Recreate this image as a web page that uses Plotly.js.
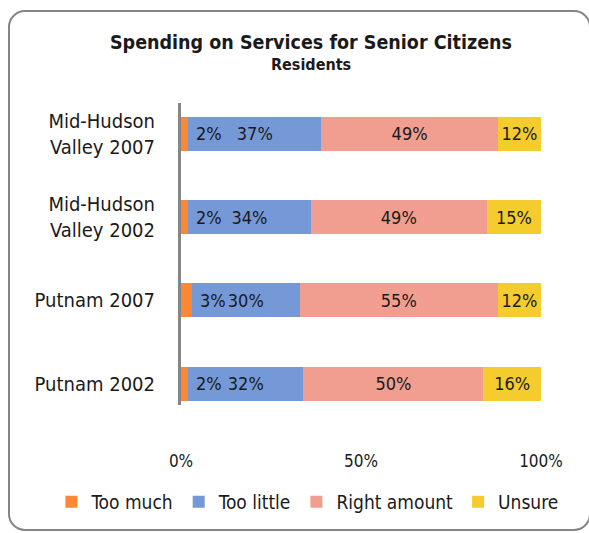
<!DOCTYPE html>
<html>
<head>
<meta charset="utf-8">
<script src="https://cdn.plot.ly/plotly-3.0.1.min.js"></script>
<style>
  html, body { margin: 0; padding: 0; background: #fff; overflow: hidden; }
  #wrap { position: relative; width: 589px; height: 533px; }
  #chart { position: absolute; left: 0; top: 0; width: 589px; height: 533px; }
  #frame { position: absolute; left: 8px; top: 10px; width: 583px; height: 521px;
           box-sizing: border-box; border: 2px solid #858585; border-radius: 17px;
           pointer-events: none; }
</style>
</head>
<body>
<div id="wrap">
  <div id="chart"></div>
  <div id="frame"></div>
</div>
<script>
// ---- data ----
const categories = ['Mid-Hudson<br>Valley 2007', 'Mid-Hudson<br>Valley 2002', 'Putnam 2007', 'Putnam 2002'];
const tooMuch    = [2, 2, 3, 2];
const tooLittle  = [37, 34, 30, 32];
const rightAmt   = [49, 49, 55, 50];
const unsure     = [12, 15, 12, 16];
const seriesNames = ['Too much', 'Too little', 'Right amount', 'Unsure'];
const xTickVals  = [0, 50, 100];
const xTickText  = ['0%', '50%', '100%'];
const titleText  = 'Spending on Services for Senior Citizens';
const subtitleText = 'Residents';

// ---- styles ----
const FONT = "'DejaVu Sans Condensed', 'DejaVu Sans', sans-serif";
const colors = ['#FB8837', '#7599D7', '#F19D90', '#F5CC2E'];
const labelFont = { family: FONT, size: 18, color: '#1a1a1a' };
const pct = v => v + '%';

function barTrace(vals, i, showText) {
  return {
    type: 'bar', orientation: 'h',
    name: seriesNames[i],
    y: categories, x: vals,
    marker: { color: colors[i], line: { width: 0 } },
    text: showText ? vals.map(pct) : undefined,
    textposition: showText ? 'inside' : 'none',
    insidetextanchor: 'middle',
    textangle: 0,
    constraintext: 'none',
    insidetextfont: labelFont,
    hoverinfo: 'skip'
  };
}

const data = [
  barTrace(tooMuch, 0, false),
  barTrace(tooLittle, 1, true),
  barTrace(rightAmt, 2, true),
  barTrace(unsure, 3, true)
];

// labels for the thin "Too much" segments, placed just right of the segment end
const annotations = categories.map((c, i) => ({
  x: tooMuch[i], y: c, xref: 'x', yref: 'y',
  text: pct(tooMuch[i]), showarrow: false,
  xanchor: 'left', xshift: 6, font: labelFont
}));
// subtitle line under the main title
annotations.push({
  xref: 'paper', yref: 'paper', x: 0.361, y: 1.126,
  xanchor: 'center', yanchor: 'middle', showarrow: false,
  text: subtitleText,
  font: { family: FONT, size: 16, weight: 'bold', color: '#1a1a1a' }
});

const layout = {
  width: 589, height: 533,
  paper_bgcolor: '#ffffff', plot_bgcolor: '#ffffff',
  font: { family: FONT, color: '#1a1a1a' },
  margin: { l: 181, r: 48, t: 103, b: 128, pad: 0 },
  barmode: 'stack',
  bargap: 0.592,
  showlegend: true,
  title: {
    text: titleText,
    font: { family: FONT, size: 19.5, weight: 'bold', color: '#1a1a1a' },
    xref: 'container', x: 0.528, xanchor: 'center',
    yref: 'container', y: 1 - 35 / 533, yanchor: 'top'
  },
  xaxis: {
    range: [0, 100], tickvals: xTickVals, ticktext: xTickText,
    showgrid: false, zeroline: false, showline: false, ticks: '',
    ticklabelstandoff: 44,
    tickfont: { family: FONT, size: 17, color: '#1a1a1a' },
    fixedrange: true
  },
  yaxis: {
    type: 'category',
    range: [3.254, -0.368],
    showgrid: false, zeroline: false,
    showline: true, linecolor: '#868686', linewidth: 3,
    ticks: '', ticklabelstandoff: 19,
    tickfont: { family: FONT, size: 20, color: '#1a1a1a' },
    fixedrange: true
  },
  legend: {
    orientation: 'h',
    xref: 'paper', x: -0.36, xanchor: 'left',
    yref: 'paper', y: -0.321, yanchor: 'middle',
    font: { family: FONT, size: 19, color: '#1a1a1a' },
    traceorder: 'normal',
    itemwidth: 30,
    bgcolor: 'rgba(0,0,0,0)'
  },
  annotations: annotations
};

Plotly.newPlot('chart', data, layout, { displayModeBar: false, staticPlot: true });
</script>
</body>
</html>
